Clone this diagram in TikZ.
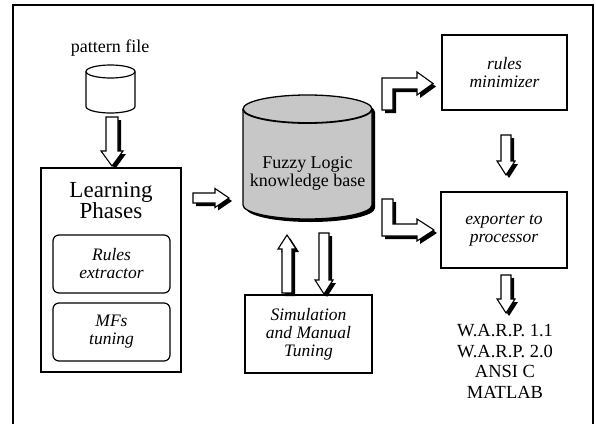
\documentclass[tikz,border=0pt]{standalone}
\usepackage{fontspec}
\setmainfont{Liberation Serif}
\usetikzlibrary{shadows,calc}

\tikzset{
  box/.style={draw, line width=1.2pt, fill=white, inner sep=0pt, align=center,
    font=\fontsize{17.5}{18}\selectfont\itshape},
  rbox/.style={box, rounded corners=6pt, minimum width=117pt, minimum height=58pt},
  txt/.style={inner sep=0pt, align=center, font=\fontsize{18}{18}\selectfont},
  shade/.style={drop shadow={shadow xshift=3pt, shadow yshift=-3pt, fill=black, opacity=1}},
  fatL/.style={draw, line width=1.1pt, fill=white, line join=miter, shade}
}

% block arrow: start, tip, half shaft, half head, head length
\newcommand\fatarrow[5]{%
  \coordinate (hb) at ($(#2)!#5!(#1)$);
  \path[fatL] ($(#1)!#3!90:(#2)$) -- ($(hb)!#3!90:(#2)$) -- ($(hb)!#4!90:(#2)$) -- (#2)
    -- ($(hb)!#4!-90:(#2)$) -- ($(hb)!#3!-90:(#2)$) -- ($(#1)!#3!-90:(#2)$) -- cycle;}

\begin{document}
\begin{tikzpicture}[x=1pt, y=-1pt]
  \useasboundingbox (0,0) rectangle (596,423);

  % frame
  \draw[line width=1.2pt] (13,440) -- (13,5) -- (593,5) -- (593,440);

  % pattern file
  \node[txt] (patlbl) at (110,48) {pattern file};
  \draw[line width=1.2pt, fill=white] (86,71.5) -- (86,106.5)
    arc[start angle=180, end angle=0, x radius=24.5, y radius=6.5] -- (135,71.5);
  \draw[line width=1.2pt, fill=white] (110.5,71.5) ellipse[x radius=24.5, y radius=6.5];

  % learning phases
  \node[box, minimum width=140pt, minimum height=204pt] (learn) at (111,270) {};
  \node[txt, font=\fontsize{23}{20.5}\selectfont] (learnttl) at (111,200.5) {Learning\\Phases};
  \node[rbox] (rules) at (111.5,264) {Rules\\extractor};
  \node[rbox] (mfs) at (111.5,332) {MFs\\tuning};

  % knowledge base
  \path[draw, line width=1.3pt, fill=black!22, shade] (243,109) -- (243,205)
    arc[start angle=180, end angle=0, x radius=64.5, y radius=14] -- (372,109)
    arc[start angle=0, end angle=-180, x radius=64.5, y radius=14] -- cycle;
  \draw[line width=1.8pt] (243,109) arc[start angle=180, end angle=0, x radius=64.5, y radius=14];
  \node[txt] (kb) at (307.5,173) {Fuzzy Logic\\knowledge base};

  % other blocks
  \node[box, minimum width=127pt, minimum height=78pt] (sim) at (308.5,334) {Simulation\\and Manual\\Tuning};
  \node[box, minimum width=125pt, minimum height=75pt] (minim) at (504.5,72.5) {rules\\minimizer};
  \node[box, minimum width=126pt, minimum height=76pt] (export) at (504,230) {exporter to\\processor};
  \node[txt, font=\fontsize{18.5}{20.5}\selectfont] (warp) at (505,361.5) {W.A.R.P. 1.1\\W.A.R.P. 2.0\\ANSI C\\MATLAB};

  % block arrows
  \coordinate (a1s) at (112,117);   \coordinate (a1e) at (112,166);
  \coordinate (a2s) at (193,198);   \coordinate (a2e) at (229,198);
  \coordinate (a3s) at (287,293);   \coordinate (a3e) at (287,235);
  \coordinate (a4s) at (324,233);   \coordinate (a4e) at (324,294);
  \coordinate (a5s) at (506,135);   \coordinate (a5e) at (506,175);
  \coordinate (a6s) at (506,275);   \coordinate (a6e) at (506,313);

  \fatarrow{a1s}{a1e}{6pt}{11pt}{15pt}
  \fatarrow{a2s}{a2e}{5pt}{9.5pt}{14pt}
  \fatarrow{a3s}{a3e}{5pt}{9pt}{14pt}
  \fatarrow{a4s}{a4e}{5pt}{9pt}{14pt}
  \fatarrow{a5s}{a5e}{5pt}{9pt}{14pt}
  \fatarrow{a6s}{a6e}{5pt}{9pt}{14pt}

  \path[fatL] (382,110) -- (382,78) -- (417,78) -- (417,72) -- (433,83.5)
    -- (417,95) -- (417,89) -- (393,89) -- (393,110) -- cycle;
  \path[fatL] (382,199) -- (393,199) -- (393,224) -- (417,224) -- (417,219)
    -- (434,230) -- (417,241) -- (417,236) -- (382,236) -- cycle;

\end{tikzpicture}
\end{document}
